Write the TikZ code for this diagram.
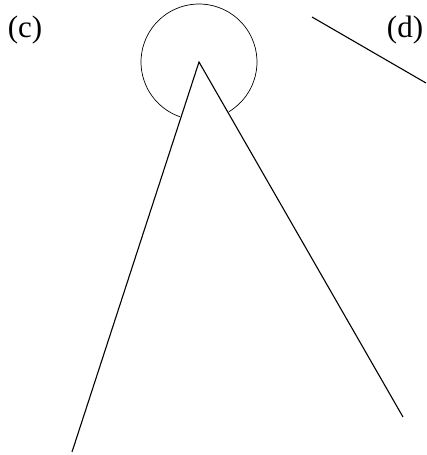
\documentclass[tikz,border=0pt]{standalone}
\usepackage{fontspec}
\setmainfont{Liberation Serif}
\begin{document}
\begin{tikzpicture}[x=1pt,y=1pt,line width=1.1pt,
  lbl/.style={inner sep=0pt,anchor=base,font=\fontsize{31}{36}\selectfont}]
\useasboundingbox (0,0) rectangle (426,455);
\node[lbl] (labc) at (25,417.5) {(c)};
\node[lbl] (labd) at (405,417.5) {(d)};
\coordinate (apex) at (199,393);
\coordinate (leftend) at (72,3);
\coordinate (rightend) at (403,38);
\coordinate (stubstart) at (312,438);
\coordinate (stubend) at (426,372);
\draw (leftend)--(apex)--(rightend);
\draw[line width=0.7pt] (apex) ++(-59:58) arc[start angle=-59,end angle=251,radius=58];
\draw (stubstart)--(stubend);
\end{tikzpicture}
\end{document}
